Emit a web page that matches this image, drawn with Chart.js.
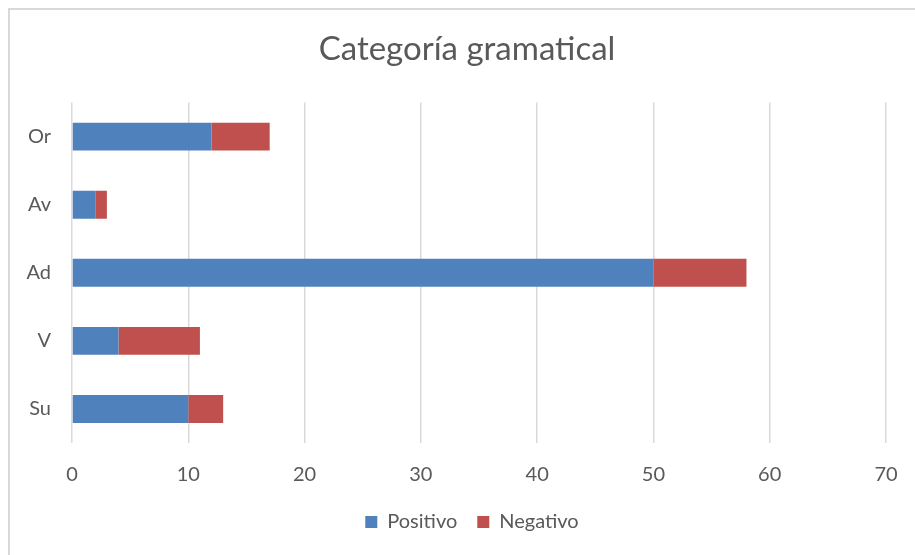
<!DOCTYPE html>
<html>
<head>
<meta charset="utf-8">
<script src="https://cdn.jsdelivr.net/npm/chart.js@4.4.0/dist/chart.umd.min.js"></script>
<style>
    html, body { margin: 0; padding: 0; background: #fff; }
    #wrap { position: relative; width: 915px; height: 555px; }
    #frame { position: absolute; left: 8px; top: 8px; right: 0; bottom: 0; border-top: 2px solid #d9d9d9; border-left: 2px solid #d9d9d9; }
    canvas { position: absolute; left: 0; top: 0; }
</style>
</head>
<body>
<div id="wrap">
    <div id="frame"></div>
    <canvas id="myChart" width="915" height="555"></canvas>
</div>
<script>
const categories = ['Or', 'Av', 'Ad', 'V', 'Su'];
const positivo = [12, 2, 50, 4, 10];
const negativo = [5, 1, 8, 7, 3];
const xTicks = [0, 10, 20, 30, 40, 50, 60, 70];

const textColor = '#595959';
const fontFamily = 'Lato, "Open Sans", sans-serif';

// centre title and legend over the frame rather than the canvas minus padding
const blockShift = {
    id: 'blockShift',
    afterLayout(chart) {
        if (chart.titleBlock) {
            chart.titleBlock.left = 19;
            chart.titleBlock.right = 915;
        }
        if (chart.legend) {
            chart.legend.left += 29;
            chart.legend.right += 29;
        }
    }
};

const config = {
    type: 'bar',
    data: {
        labels: categories,
        datasets: [{
            label: 'Positivo',
            data: positivo,
            backgroundColor: '#4f81bd',
            categoryPercentage: 1,
            barPercentage: 0.41
        }, {
            label: 'Negativo',
            data: negativo,
            backgroundColor: '#c0504d',
            categoryPercentage: 1,
            barPercentage: 0.41
        }]
    },
    options: {
        indexAxis: 'y',
        responsive: false,
        animation: false,
        layout: { padding: { left: 0, right: 29, top: 0, bottom: 13 } },
        scales: {
            x: {
                stacked: true,
                min: xTicks[0],
                max: xTicks[xTicks.length - 1],
                afterBuildTicks: axis => { axis.ticks = xTicks.map(v => ({ value: v })); },
                grid: { color: '#d9d9d9', lineWidth: 1.5, drawTicks: false },
                border: { display: false },
                ticks: { color: textColor, font: { family: fontFamily, size: 20 }, padding: 20 },
                afterFit: axis => {
                    axis.height = 49;
                    axis.paddingLeft = 0;
                    axis.paddingRight = 0;
                }
            },
            y: {
                stacked: true,
                grid: { display: false, drawTicks: false },
                border: { display: false },
                ticks: { color: textColor, font: { family: fontFamily, size: 20 }, padding: 21 },
                afterFit: axis => { axis.width = 72; }
            }
        },
        plugins: {
            title: {
                display: true,
                text: 'Categoría gramatical',
                color: textColor,
                font: { family: fontFamily, size: 33, weight: 'normal' },
                padding: { top: 30, bottom: 33 }
            },
            legend: {
                position: 'bottom',
                labels: {
                    color: textColor,
                    font: { family: fontFamily, size: 20 },
                    boxWidth: 12,
                    boxHeight: 12,
                    padding: 20
                }
            },
            tooltip: { enabled: false }
        }
    },
    plugins: [blockShift]
};

new Chart(document.getElementById('myChart').getContext('2d'), config);
</script>
</body>
</html>
